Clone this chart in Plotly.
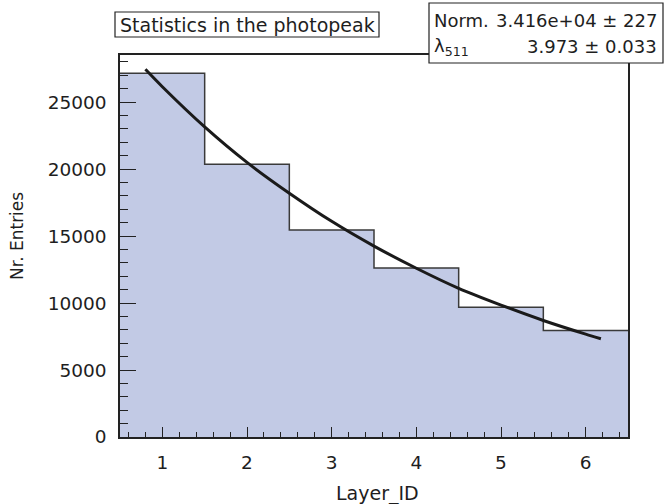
import plotly.graph_objects as go

# Histogram data (Layer_ID bins 1..6, edges at half-integers)
bin_edges = [0.5, 1.5, 2.5, 3.5, 4.5, 5.5, 6.5]
entries = [27160, 20370, 15450, 12610, 9680, 7960]

# Fit curve points (exponential fit)
fit_x = [0.8, 1.0, 1.5, 2.0, 2.5, 3.0, 3.5, 4.0, 4.5, 5.0, 5.5, 6.0, 6.18]
fit_y = [27450, 26150, 23150, 20500, 18200, 16100, 14250, 12600, 11100, 9850, 8700, 7680, 7340]

title_text = "Statistics in the photopeak"
stats_rows = [("Norm.", "3.416e+04 ± 227"), ("λ<sub>511</sub>", "3.973 ± 0.033")]
x_title = "Layer_ID"
y_title = "Nr. Entries"

FONT = "DejaVu Sans, sans-serif"
TXT = "#1e1e1e"

fig = go.Figure()
fig.add_trace(go.Scatter(
    x=bin_edges, y=entries + [entries[-1]], mode="lines", line_shape="hv",
    fill="tozeroy", fillcolor="#c2cae5",
    line=dict(color="#3a3a3a", width=1.5), showlegend=False, hoverinfo="skip"))
fig.add_trace(go.Scatter(
    x=fit_x, y=fit_y, mode="lines", line_shape="spline", line_smoothing=0.8,
    line=dict(color="#1a1a1a", width=3), showlegend=False, hoverinfo="skip"))

L, R, T, B = 120, 37, 55, 67
W, H = 665, 504
pw, ph = W - L - R, H - T - B

def px(x):
    return (x - L) / pw

def py(y):
    return (H - B - y) / ph

axis_common = dict(
    showline=True, linecolor="#222", linewidth=1.5, mirror=True,
    ticks="inside", tickcolor="#222", tickwidth=1.2,
    showgrid=False, zeroline=False, tickformat="d",
    tickfont=dict(family=FONT, size=18.5, color=TXT),
)

fig.update_layout(
    width=W, height=H,
    margin=dict(l=L, r=R, t=T, b=B),
    paper_bgcolor="white", plot_bgcolor="white",
    xaxis=dict(range=[0.5, 6.5], tickmode="linear", tick0=1, dtick=1, ticklen=10,
               ticklabelstandoff=8,
               minor=dict(dtick=0.2, tick0=0.6, ticklen=5, ticks="inside", tickcolor="#222"),
               **axis_common),
    yaxis=dict(range=[0, 28520], tickmode="linear", tick0=0, dtick=5000, ticklen=16,
               ticklabelstandoff=8,
               minor=dict(dtick=1000, ticklen=8, ticks="inside", tickcolor="#222"),
               **axis_common),
)

# Axis titles
fig.add_annotation(xref="paper", yref="paper", x=px(377), y=py(493), xanchor="center", yanchor="middle",
                   text=x_title, showarrow=False, font=dict(family=FONT, size=19, color=TXT))
fig.add_annotation(xref="paper", yref="paper", x=px(17), y=py(236), xanchor="center", yanchor="middle",
                   text=y_title, textangle=-90, showarrow=False, font=dict(family=FONT, size=17, color=TXT))

# Title box
fig.add_shape(type="rect", xref="paper", yref="paper", x0=px(115), x1=px(379), y0=py(37), y1=py(12),
              fillcolor="white", line=dict(color="#222", width=1.2), layer="above")
fig.add_annotation(xref="paper", yref="paper", x=px(247), y=py(24.5), xanchor="center", yanchor="middle",
                   text=title_text, showarrow=False, font=dict(family=FONT, size=19, color=TXT))

# Stats box
fig.add_shape(type="rect", xref="paper", yref="paper", x0=px(429), x1=px(663), y0=py(63), y1=py(3),
              fillcolor="white", line=dict(color="#222", width=1.2), layer="above")
for i, (lab, val) in enumerate(stats_rows):
    yc = [20, 47][i]
    fig.add_annotation(xref="paper", yref="paper", x=px(432), y=py(yc), xanchor="left", yanchor="middle",
                       text=lab, showarrow=False, font=dict(family=FONT, size=18, color=TXT))
    fig.add_annotation(xref="paper", yref="paper", x=px(659), y=py(yc), xanchor="right", yanchor="middle",
                       text=val, showarrow=False, font=dict(family=FONT, size=18, color=TXT))

fig.write_html("out.html")
